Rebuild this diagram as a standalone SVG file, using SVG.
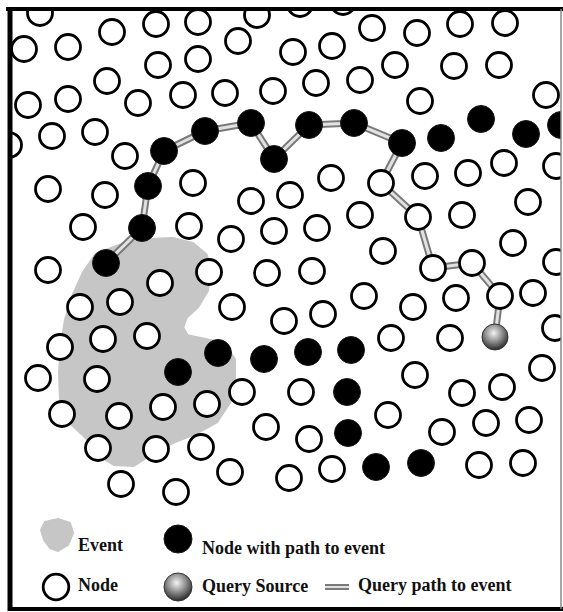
<svg xmlns="http://www.w3.org/2000/svg" width="563" height="612" viewBox="0 0 563 612">
<style>
.w{fill:#fff;stroke:#000;stroke-width:2.8}
.b{fill:#000;stroke:#1a1a1a;stroke-width:1}
.po{fill:none;stroke:#7a7a7a;stroke-width:7;stroke-linejoin:round;stroke-linecap:round}
.pi{fill:none;stroke:#e2e2e2;stroke-width:3;stroke-linejoin:round;stroke-linecap:round}
.t{font-family:"Liberation Serif","Times New Roman",serif;font-weight:bold;font-size:18px;fill:#111}
.ev{fill:#c6c6c6;stroke:#c6c6c6;stroke-width:8;stroke-linejoin:round}
</style>
<defs>
<clipPath id="frame"><rect x="10" y="9" width="551" height="600"/></clipPath>
<radialGradient id="qs" cx="45%" cy="35%" r="65%">
<stop offset="0" stop-color="#f4f4f4"/>
<stop offset="0.45" stop-color="#9a9a9a"/>
<stop offset="1" stop-color="#2a2a2a"/>
</radialGradient>
</defs>
<rect x="0" y="0" width="563" height="612" fill="#fff"/>
<g clip-path="url(#frame)">
<g id="event"><polygon class="ev" points="98,256 125,246 150,242 172,241 192,246 204,256 208,270 205,290 196,305 184,316 180,328 186,338 205,342 222,346 232,360 232,382 228,400 215,420 195,431 172,440 150,452 133,463 115,462 100,453 88,436 72,421 63,400 62,372 64,345 68,320 76,295 86,273"/></g>
<g id="connectors">
<polyline class="po" points="495,337 500,296 472,263 433,268 418,217 381,183 402,143 354,123 309,125 274,159 251,123 205,131 164,151 148,186 142,228 106,263"/>
<polyline class="pi" points="495,337 500,296 472,263 433,268 418,217 381,183 402,143 354,123 309,125 274,159 251,123 205,131 164,151 148,186 142,228 106,263"/>
</g>
<g id="nodes">
<g id="n1"><circle class="w" cx="40" cy="13" r="12.5"/></g>
<g id="n2"><circle class="w" cx="24" cy="49" r="12.5"/></g>
<g id="n3"><circle class="w" cx="68" cy="47" r="12.5"/></g>
<g id="n4"><circle class="w" cx="112" cy="32" r="12.5"/></g>
<g id="n5"><circle class="w" cx="156" cy="24" r="12.5"/></g>
<g id="n6"><circle class="w" cx="198" cy="22" r="12.5"/></g>
<g id="n7"><circle class="w" cx="257" cy="15" r="12.5"/></g>
<g id="n8"><circle class="w" cx="300" cy="4" r="12.5"/></g>
<g id="n9"><circle class="w" cx="343" cy="2" r="12.5"/></g>
<g id="n10"><circle class="w" cx="238" cy="41" r="12.5"/></g>
<g id="n11"><circle class="w" cx="293" cy="52" r="12.5"/></g>
<g id="n12"><circle class="w" cx="332" cy="46" r="12.5"/></g>
<g id="n13"><circle class="w" cx="372" cy="28" r="12.5"/></g>
<g id="n14"><circle class="w" cx="417" cy="33" r="12.5"/></g>
<g id="n15"><circle class="w" cx="460" cy="24" r="12.5"/></g>
<g id="n16"><circle class="w" cx="505" cy="23" r="12.5"/></g>
<g id="n17"><circle class="w" cx="158" cy="65" r="12.5"/></g>
<g id="n18"><circle class="w" cx="198" cy="59" r="12.5"/></g>
<g id="n19"><circle class="w" cx="395" cy="65" r="12.5"/></g>
<g id="n20"><circle class="w" cx="454" cy="66" r="12.5"/></g>
<g id="n21"><circle class="w" cx="499" cy="65" r="12.5"/></g>
<g id="n22"><circle class="w" cx="107" cy="81" r="12.5"/></g>
<g id="n23"><circle class="w" cx="225" cy="93" r="12.5"/></g>
<g id="n24"><circle class="w" cx="273" cy="91" r="12.5"/></g>
<g id="n25"><circle class="w" cx="316" cy="83" r="12.5"/></g>
<g id="n26"><circle class="w" cx="360" cy="80" r="12.5"/></g>
<g id="n27"><circle class="w" cx="28" cy="105" r="12.5"/></g>
<g id="n28"><circle class="w" cx="68" cy="99" r="12.5"/></g>
<g id="n29"><circle class="w" cx="138" cy="103" r="12.5"/></g>
<g id="n30"><circle class="w" cx="183" cy="95" r="12.5"/></g>
<g id="n31"><circle class="w" cx="420" cy="101" r="12.5"/></g>
<g id="n32"><circle class="w" cx="546" cy="95" r="12.5"/></g>
<g id="n33"><circle class="w" cx="9" cy="145" r="12.5"/></g>
<g id="n34"><circle class="w" cx="52" cy="136" r="12.5"/></g>
<g id="n35"><circle class="w" cx="95" cy="132" r="12.5"/></g>
<g id="n36"><circle class="w" cx="125" cy="156" r="12.5"/></g>
<g id="n37"><circle class="w" cx="193" cy="183" r="12.5"/></g>
<g id="n38"><circle class="w" cx="251" cy="201" r="12.5"/></g>
<g id="n39"><circle class="w" cx="290" cy="195" r="12.5"/></g>
<g id="n40"><circle class="w" cx="331" cy="178" r="12.5"/></g>
<g id="n41"><circle class="w" cx="360" cy="215" r="12.5"/></g>
<g id="n42"><circle class="w" cx="381" cy="183" r="12.5"/></g>
<g id="n43"><circle class="w" cx="425" cy="176" r="12.5"/></g>
<g id="n44"><circle class="w" cx="468" cy="173" r="12.5"/></g>
<g id="n45"><circle class="w" cx="504" cy="163" r="12.5"/></g>
<g id="n46"><circle class="w" cx="556" cy="166" r="12.5"/></g>
<g id="n47"><circle class="w" cx="48" cy="189" r="12.5"/></g>
<g id="n48"><circle class="w" cx="105" cy="195" r="12.5"/></g>
<g id="n49"><circle class="w" cx="83" cy="227" r="12.5"/></g>
<g id="n50"><circle class="w" cx="189" cy="226" r="12.5"/></g>
<g id="n51"><circle class="w" cx="231" cy="239" r="12.5"/></g>
<g id="n52"><circle class="w" cx="274" cy="231" r="12.5"/></g>
<g id="n53"><circle class="w" cx="317" cy="228" r="12.5"/></g>
<g id="n54"><circle class="w" cx="418" cy="217" r="12.5"/></g>
<g id="n55"><circle class="w" cx="462" cy="215" r="12.5"/></g>
<g id="n56"><circle class="w" cx="528" cy="202" r="12.5"/></g>
<g id="n57"><circle class="w" cx="48" cy="270" r="12.5"/></g>
<g id="n58"><circle class="w" cx="209" cy="272" r="12.5"/></g>
<g id="n59"><circle class="w" cx="267" cy="273" r="12.5"/></g>
<g id="n60"><circle class="w" cx="312" cy="271" r="12.5"/></g>
<g id="n61"><circle class="w" cx="383" cy="251" r="12.5"/></g>
<g id="n62"><circle class="w" cx="513" cy="243" r="12.5"/></g>
<g id="n63"><circle class="w" cx="556" cy="262" r="12.5"/></g>
<g id="n64"><circle class="w" cx="433" cy="268" r="12.5"/></g>
<g id="n65"><circle class="w" cx="472" cy="263" r="12.5"/></g>
<g id="n66"><circle class="w" cx="160" cy="283" r="12.5"/></g>
<g id="n67"><circle class="w" cx="80" cy="307" r="12.5"/></g>
<g id="n68"><circle class="w" cx="120" cy="302" r="12.5"/></g>
<g id="n69"><circle class="w" cx="232" cy="307" r="12.5"/></g>
<g id="n70"><circle class="w" cx="284" cy="321" r="12.5"/></g>
<g id="n71"><circle class="w" cx="323" cy="314" r="12.5"/></g>
<g id="n72"><circle class="w" cx="364" cy="296" r="12.5"/></g>
<g id="n73"><circle class="w" cx="413" cy="307" r="12.5"/></g>
<g id="n74"><circle class="w" cx="456" cy="298" r="12.5"/></g>
<g id="n75"><circle class="w" cx="500" cy="296" r="12.5"/></g>
<g id="n76"><circle class="w" cx="533" cy="293" r="12.5"/></g>
<g id="n77"><circle class="w" cx="60" cy="347" r="12.5"/></g>
<g id="n78"><circle class="w" cx="103" cy="339" r="12.5"/></g>
<g id="n79"><circle class="w" cx="147" cy="336" r="12.5"/></g>
<g id="n80"><circle class="w" cx="391" cy="338" r="12.5"/></g>
<g id="n81"><circle class="w" cx="450" cy="338" r="12.5"/></g>
<g id="n82"><circle class="w" cx="555" cy="328" r="12.5"/></g>
<g id="n83"><circle class="w" cx="38" cy="378" r="12.5"/></g>
<g id="n84"><circle class="w" cx="97" cy="379" r="12.5"/></g>
<g id="n85"><circle class="w" cx="242" cy="392" r="12.5"/></g>
<g id="n86"><circle class="w" cx="301" cy="392" r="12.5"/></g>
<g id="n87"><circle class="w" cx="415" cy="375" r="12.5"/></g>
<g id="n88"><circle class="w" cx="462" cy="393" r="12.5"/></g>
<g id="n89"><circle class="w" cx="502" cy="387" r="12.5"/></g>
<g id="n90"><circle class="w" cx="542" cy="368" r="12.5"/></g>
<g id="n91"><circle class="w" cx="62" cy="414" r="12.5"/></g>
<g id="n92"><circle class="w" cx="119" cy="416" r="12.5"/></g>
<g id="n93"><circle class="w" cx="163" cy="407" r="12.5"/></g>
<g id="n94"><circle class="w" cx="207" cy="404" r="12.5"/></g>
<g id="n95"><circle class="w" cx="266" cy="427" r="12.5"/></g>
<g id="n96"><circle class="w" cx="309" cy="439" r="12.5"/></g>
<g id="n97"><circle class="w" cx="388" cy="415" r="12.5"/></g>
<g id="n98"><circle class="w" cx="442" cy="432" r="12.5"/></g>
<g id="n99"><circle class="w" cx="486" cy="423" r="12.5"/></g>
<g id="n100"><circle class="w" cx="529" cy="420" r="12.5"/></g>
<g id="n101"><circle class="w" cx="98" cy="448" r="12.5"/></g>
<g id="n102"><circle class="w" cx="156" cy="449" r="12.5"/></g>
<g id="n103"><circle class="w" cx="201" cy="447" r="12.5"/></g>
<g id="n104"><circle class="w" cx="230" cy="472" r="12.5"/></g>
<g id="n105"><circle class="w" cx="289" cy="478" r="12.5"/></g>
<g id="n106"><circle class="w" cx="332" cy="469" r="12.5"/></g>
<g id="n107"><circle class="w" cx="479" cy="465" r="12.5"/></g>
<g id="n108"><circle class="w" cx="523" cy="463" r="12.5"/></g>
<g id="n109"><circle class="w" cx="121" cy="484" r="12.5"/></g>
<g id="n110"><circle class="w" cx="176" cy="492" r="12.5"/></g>
<g id="b1"><circle class="b" cx="164" cy="151" r="13.5"/></g>
<g id="b2"><circle class="b" cx="205" cy="131" r="13.5"/></g>
<g id="b3"><circle class="b" cx="251" cy="123" r="13.5"/></g>
<g id="b4"><circle class="b" cx="274" cy="159" r="13.5"/></g>
<g id="b5"><circle class="b" cx="309" cy="125" r="13.5"/></g>
<g id="b6"><circle class="b" cx="354" cy="123" r="13.5"/></g>
<g id="b7"><circle class="b" cx="402" cy="143" r="13.5"/></g>
<g id="b8"><circle class="b" cx="441" cy="138" r="13.5"/></g>
<g id="b9"><circle class="b" cx="481" cy="119" r="13.5"/></g>
<g id="b10"><circle class="b" cx="526" cy="134" r="13.5"/></g>
<g id="b11"><circle class="b" cx="561" cy="125" r="13.5"/></g>
<g id="b12"><circle class="b" cx="148" cy="186" r="13.5"/></g>
<g id="b13"><circle class="b" cx="142" cy="228" r="13.5"/></g>
<g id="b14"><circle class="b" cx="106" cy="263" r="13.5"/></g>
<g id="b15"><circle class="b" cx="178" cy="372" r="13.5"/></g>
<g id="b16"><circle class="b" cx="218" cy="353" r="13.5"/></g>
<g id="b17"><circle class="b" cx="264" cy="359" r="13.5"/></g>
<g id="b18"><circle class="b" cx="308" cy="352" r="13.5"/></g>
<g id="b19"><circle class="b" cx="351" cy="350" r="13.5"/></g>
<g id="b20"><circle class="b" cx="347" cy="392" r="13.5"/></g>
<g id="b21"><circle class="b" cx="348" cy="433" r="13.5"/></g>
<g id="b22"><circle class="b" cx="376" cy="467" r="13.5"/></g>
<g id="b23"><circle class="b" cx="421" cy="463" r="13.5"/></g>
<g id="query-source"><circle cx="495" cy="337" r="13" fill="url(#qs)" stroke="#333" stroke-width="1"/></g>
</g>
</g>
<g id="legend">
<g id="leg-event"><polygon points="45,522 58,519 70,523 73,533 68,545 58,551 50,548 44,540 41,530" fill="#c6c6c6" stroke="#c6c6c6" stroke-width="2" stroke-linejoin="round"/><text class="t" x="78" y="551">Event</text></g>
<g id="leg-black"><circle class="b" cx="178" cy="539" r="14"/><text class="t" x="202" y="554">Node with path to event</text></g>
<g id="leg-node"><circle class="w" cx="56" cy="587" r="12.8"/><text class="t" x="78" y="591">Node</text></g>
<g id="leg-query"><circle cx="178" cy="587" r="14" fill="url(#qs)" stroke="#333" stroke-width="1"/><text class="t" x="202" y="592">Query Source</text></g>
<g id="leg-path"><line x1="325" y1="587" x2="349" y2="587" stroke="#7a7a7a" stroke-width="6"/><line x1="325" y1="587" x2="349" y2="587" stroke="#e2e2e2" stroke-width="2"/><text class="t" x="358" y="591">Query path to event</text></g>
</g>
<g id="frame-border">
<line x1="6" y1="9" x2="563" y2="9" stroke="#000" stroke-width="4"/>
<line x1="10" y1="7" x2="10" y2="611" stroke="#000" stroke-width="5"/>
<line x1="8" y1="609" x2="563" y2="609" stroke="#000" stroke-width="4"/>
<line x1="561" y1="9" x2="561" y2="609" stroke="#888" stroke-width="1.5"/>
</g>
</svg>
